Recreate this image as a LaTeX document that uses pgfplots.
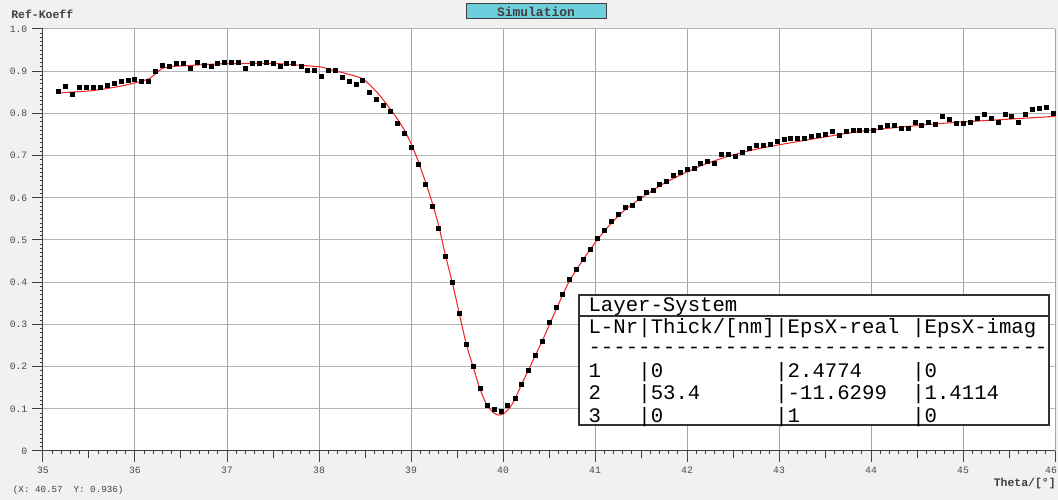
\documentclass[border=0pt]{standalone}
\usepackage{fontspec}
\setmonofont{Liberation Mono}
\renewcommand\familydefault{\ttdefault}
\usepackage{pgfplots}
\pgfplotsset{compat=1.18}
\definecolor{bgc}{HTML}{F0F1F0}
\definecolor{axisc}{HTML}{404040}
\definecolor{tickc}{HTML}{4A4A4A}
\definecolor{gridx}{HTML}{A6A6A6}
\definecolor{gridy}{HTML}{B4B4B4}
\definecolor{btn}{HTML}{6DCEDC}
\definecolor{simred}{HTML}{F02828}
\definecolor{tabc}{HTML}{333333}
\begin{document}
\begin{tikzpicture}
\useasboundingbox (0,0) rectangle (793.5pt,375pt);
\clip (0,0) rectangle (793.5pt,375pt);
\fill[bgc] (0,0) rectangle (793.5pt,375pt);
\begin{axis}[
  at={(32.25pt,36.75pt)}, anchor=south west,
  scale only axis, width=759pt, height=316.5pt,
  xmin=35, xmax=46, ymin=0, ymax=1,
  axis lines=left, axis line style={-, draw=axisc, line width=0.75pt},
  axis background/.style={fill=white},
  xtick={35,36,37,38,39,40,41,42,43,44,45,46},
  xticklabels={35,36,37,38,39,40,41,42,43,44,45,{\makebox[0pt]{\kern-6pt 46}}},
  ytick={0,0.1,0.2,0.3,0.4,0.5,0.6,0.7,0.8,0.9,1},
  yticklabels={0,0.1,0.2,0.3,0.4,0.5,0.6,0.7,0.8,0.9,1.0},
  minor x tick num=9, minor y tick num=9,
  extra x ticks={35.5,36.5,37.5,38.5,39.5,40.5,41.5,42.5,43.5,44.5,45.5},
  extra x tick labels={},
  extra x tick style={grid=none, major tick length=5.5pt},
  tick align=outside,
  major tick length=8.25pt, minor tick length=2.5pt,
  tick style={draw=axisc, line width=0.75pt},
  grid=major,
  x grid style={draw=gridx, line width=0.75pt},
  y grid style={draw=gridy, line width=0.75pt},
  ticklabel style={font=\ttfamily\fontsize{7.3}{8.5}\selectfont, text=tickc},
]
\addplot[simred, line width=0.8pt, smooth, tension=0.4] coordinates {
(35.2,0.849) (35.54,0.854) (35.83,0.864) (36.05,0.875) (36.16,0.883)
(36.23,0.895) (36.30,0.907) (36.4,0.911) (36.63,0.914) (36.99,0.918)
(37.53,0.918) (37.79,0.914) (38.02,0.910) (38.155,0.902) (38.3,0.894)
(38.475,0.882) (38.627,0.851) (38.77,0.812) (38.845,0.789) (38.924,0.762)
(39.0,0.729) (39.076,0.688) (39.152,0.641) (39.228,0.590) (39.30,0.535)
(39.373,0.465) (39.449,0.399) (39.525,0.326) (39.60,0.254) (39.677,0.198)
(39.75,0.147) (39.82,0.111) (39.895,0.091) (39.955,0.085) (40.01,0.089)
(40.075,0.103) (40.13,0.123) (40.2,0.157) (40.275,0.191) (40.35,0.226)
(40.427,0.261) (40.50,0.297) (40.62,0.356) (40.725,0.404) (40.873,0.454)
(41.02,0.499) (41.17,0.538) (41.34,0.574) (41.52,0.602) (41.74,0.633)
(41.995,0.661) (42.21,0.681) (42.43,0.697) (42.685,0.712) (43.01,0.726)
(43.66,0.750) (44.02,0.761) (44.75,0.776) (45.47,0.786) (46.0,0.793)
};
\addplot[only marks, mark=square*, mark size=1.5pt, black] coordinates {
(35.17,0.853) (35.247,0.864) (35.323,0.846) (35.399,0.861) (35.467,0.863)
(35.543,0.863) (35.623,0.861) (35.696,0.867) (35.772,0.871) (35.848,0.875)
(35.924,0.879) (35.997,0.880) (36.073,0.876) (36.149,0.877) (36.225,0.901)
(36.301,0.915) (36.377,0.912) (36.449,0.918) (36.522,0.918) (36.598,0.907)
(36.674,0.920) (36.75,0.914) (36.826,0.911) (36.899,0.919) (36.975,0.920)
(37.05,0.920) (37.127,0.920) (37.199,0.908) (37.275,0.918) (37.351,0.918)
(37.424,0.920) (37.5,0.918) (37.576,0.912) (37.649,0.918) (37.725,0.918)
(37.804,0.911) (37.873,0.903) (37.949,0.903) (38.025,0.888) (38.10,0.902)
(38.174,0.902) (38.25,0.886) (38.326,0.877) (38.40,0.869) (38.475,0.879)
(38.55,0.851) (38.627,0.834) (38.70,0.819) (38.775,0.804) (38.848,0.777)
(38.924,0.752) (39.0,0.719) (39.076,0.679) (39.152,0.632) (39.228,0.580)
(39.30,0.527) (39.373,0.461) (39.449,0.399) (39.525,0.326) (39.601,0.254)
(39.677,0.200) (39.753,0.149) (39.826,0.109) (39.902,0.098) (39.978,0.094)
(40.05,0.109) (40.13,0.124) (40.203,0.159) (40.275,0.191) (40.348,0.228)
(40.427,0.261) (40.50,0.305) (40.576,0.340) (40.649,0.371) (40.72,0.407)
(40.797,0.431) (40.873,0.454) (40.949,0.479) (41.025,0.505) (41.105,0.523)
(41.177,0.545) (41.25,0.562) (41.326,0.577) (41.402,0.583) (41.478,0.598)
(41.554,0.613) (41.63,0.618) (41.699,0.632) (41.772,0.638) (41.851,0.653)
(41.927,0.661) (42.003,0.668) (42.076,0.671) (42.149,0.682) (42.225,0.687)
(42.297,0.681) (42.377,0.702) (42.453,0.704) (42.529,0.698) (42.605,0.708)
(42.677,0.717) (42.75,0.724) (42.826,0.724) (42.902,0.728) (42.978,0.734)
(43.054,0.739) (43.127,0.741) (43.203,0.740) (43.275,0.742) (43.351,0.745)
(43.427,0.748) (43.503,0.751) (43.58,0.758) (43.652,0.748) (43.728,0.758)
(43.804,0.760) (43.877,0.760) (43.953,0.760) (44.029,0.761) (44.101,0.766)
(44.177,0.771) (44.25,0.771) (44.326,0.765) (44.402,0.765) (44.478,0.779)
(44.551,0.773) (44.627,0.779) (44.703,0.775) (44.779,0.794) (44.851,0.786)
(44.927,0.777) (45.0,0.777) (45.076,0.778) (45.152,0.789) (45.228,0.797)
(45.304,0.788) (45.38,0.780) (45.457,0.799) (45.529,0.793) (45.605,0.778)
(45.681,0.797) (45.753,0.810) (45.829,0.811) (45.905,0.814) (45.98,0.801)
};
\end{axis}
\begin{scope}[x=0.75pt, y=-0.75pt, yshift=375pt]
  \node[anchor=west, inner sep=0pt, text=axisc, font=\ttfamily\bfseries\fontsize{8.6}{10}\selectfont] at (11,14) {Ref-Koeff};
  \draw[fill=btn, draw=axisc, line width=0.75pt] (466,4) rectangle (606,19);
  \node[inner sep=0pt, text=axisc, font=\ttfamily\bfseries\fontsize{9.7}{11}\selectfont] at (536,11.8) {Simulation};
  \node[anchor=west, inner sep=0pt, text=axisc, font=\ttfamily\fontsize{6.9}{8}\selectfont] at (12.7,490) {(X:\ 40.57\ \ Y:\ 0.936)};
  \node[anchor=east, inner sep=0pt, text=axisc, font=\ttfamily\bfseries\fontsize{8.6}{10}\selectfont] at (1056,484) {Theta/[°]};
  \draw[fill=white, draw=tabc, line width=1.1pt] (579,295) rectangle (1049,425);
  \draw[draw=tabc, line width=1.1pt] (579,316) -- (1049,316);
  \begin{scope}[every node/.style={anchor=base west, inner sep=0pt, text=black, font=\ttfamily\fontsize{15.5}{18}\selectfont}]
    \node at (588.3,311.7) {Layer-System};
    \node at (588.3,333.3) {L-Nr};
    \node at (638.1,333.3) {|Thick/[nm]};
    \node at (775.05,333.3) {|EpsX-real};
    \node at (912.0,333.3) {|EpsX-imag};
    \node at (588.3,353.5) {-------------------------------------};
    \node at (588.3,377.7) {1};
    \node at (638.1,377.7) {|0};
    \node at (775.05,377.7) {|2.4774};
    \node at (912.0,377.7) {|0};
    \node at (588.3,399.3) {2};
    \node at (638.1,399.3) {|53.4};
    \node at (775.05,399.3) {|-11.6299};
    \node at (912.0,399.3) {|1.4114};
    \node at (588.3,423.0) {3};
    \node at (638.1,423.0) {|0};
    \node at (775.05,423.0) {|1};
    \node at (912.0,423.0) {|0};
  \end{scope}
\end{scope}
\end{tikzpicture}
\end{document}
